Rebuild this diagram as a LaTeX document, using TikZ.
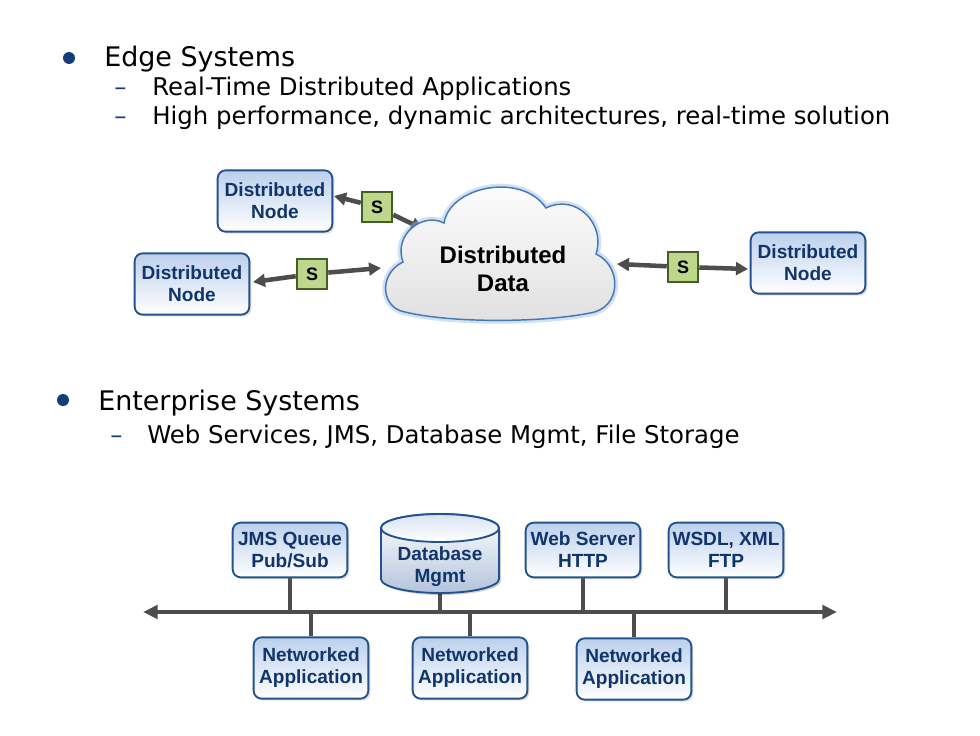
\documentclass[tikz,border=0pt]{standalone}
\usepackage{fontspec}
\setmainfont{DejaVu Sans}
\newfontfamily\arialf{Liberation Sans}
\usetikzlibrary{arrows.meta,shadows,backgrounds}
\definecolor{boxborder}{RGB}{36,82,140}
\definecolor{boxtext}{RGB}{16,52,108}
\definecolor{boxtop}{RGB}{188,208,236}
\definecolor{sfill}{RGB}{190,215,140}
\definecolor{sborder}{RGB}{66,96,36}
\definecolor{arrgray}{RGB}{77,77,77}
\definecolor{bulletblue}{RGB}{20,60,120}
\definecolor{cloudline}{RGB}{70,120,185}
\definecolor{cloudglow}{RGB}{150,190,235}
\tikzset{
  bigtext/.style={anchor=base west, inner sep=0pt, font=\fontsize{20.2}{24}\selectfont},
  subtext/.style={anchor=base west, inner sep=0pt, font=\fontsize{18.3}{22}\selectfont},
  dashmark/.style={anchor=base west, inner sep=0pt, text=bulletblue, font=\fontsize{18.3}{22}\selectfont},
  bulletdot/.style={circle, fill=bulletblue, inner sep=0pt, minimum size=9pt},
  bluebox/.style={draw=boxborder, line width=1.4pt, rounded corners=6pt,
    top color=boxtop, bottom color=white, text=boxtext, align=center,
    font=\arialf\bfseries\fontsize{14.3}{16.5}\selectfont,
    minimum width=86pt, minimum height=46pt, inner sep=1pt,
    drop shadow={shadow xshift=1.5pt, shadow yshift=-1.5pt, opacity=0.25}},
  sbox/.style={draw=sborder, line width=1.4pt, fill=sfill, minimum size=23pt,
    inner sep=0pt, font=\arialf\bfseries\fontsize{13.5}{14}\selectfont},
  conn/.style={draw=arrgray, line width=3.4pt, -{Triangle[width=9.5pt,length=9pt]}},
  bus/.style={draw=arrgray, line width=3.4pt},
  stem/.style={draw=arrgray, line width=3.4pt},
}
\begin{document}
\begin{tikzpicture}[x=0.75pt,y=-0.75pt]
\useasboundingbox (0,0) rectangle (980,735);
\begin{pgfonlayer}{background}
\fill[white] (0,0) rectangle (980,735);
\end{pgfonlayer}

% ---- bullets
\node[bulletdot] (b1) at (69,58) {};
\node[bigtext] (t1) at (104,66) {Edge Systems};
\node[dashmark] (d1) at (114,95) {–};
\node[subtext] (t1a) at (152,95) {Real-Time Distributed Applications};
\node[dashmark] (d2) at (114,124) {–};
\node[subtext] (t1b) at (152,124) {High performance, dynamic architectures, real-time solution};

\node[bulletdot] (b2) at (63,400) {};
\node[bigtext] (t2) at (98,410) {Enterprise Systems};
\node[dashmark] (d3) at (110,443) {–};
\node[subtext] (t2a) at (147,443) {Web Services, JMS, Database Mgmt, File Storage};

% ---- cloud
\fill[cloudglow, opacity=0.35] (405,312) .. controls (381,308) and (378,274) .. (403,262)
  .. controls (393,234) and (423,212) .. (444,223)
  .. controls (450,186) and (522,172) .. (546,208)
  .. controls (576,193) and (606,224) .. (596,254)
  .. controls (622,266) and (622,308) .. (590,313)
  .. controls (540,323) and (450,323) .. (405,312) -- cycle;
\draw[cloudglow, line width=5pt, opacity=0.45] (405,312) .. controls (381,308) and (378,274) .. (403,262)
  .. controls (393,234) and (423,212) .. (444,223)
  .. controls (450,186) and (522,172) .. (546,208)
  .. controls (576,193) and (606,224) .. (596,254)
  .. controls (622,266) and (622,308) .. (590,313)
  .. controls (540,323) and (450,323) .. (405,312) -- cycle;
\draw[cloudline, line width=1.1pt, top color=white, bottom color=black!12] (405,312) .. controls (381,308) and (378,274) .. (403,262)
  .. controls (393,234) and (423,212) .. (444,223)
  .. controls (450,186) and (522,172) .. (546,208)
  .. controls (576,193) and (606,224) .. (596,254)
  .. controls (622,266) and (622,308) .. (590,313)
  .. controls (540,323) and (450,323) .. (405,312) -- cycle;
\node[align=center, font=\arialf\bfseries\fontsize{18}{21}\selectfont] (cloud) at (503,269) {Distributed\\Data};
\coordinate (c1) at (423,229);
\coordinate (c2) at (381,268);
\coordinate (c3) at (617,264);

% ---- edge nodes
\node[bluebox] (dn1) at (275,201) {Distributed\\Node};
\node[bluebox] (dn2) at (192,284) {Distributed\\Node};
\node[bluebox] (dn3) at (808,263) {Distributed\\Node};
\node[sbox] (s1) at (377,207) {S};
\node[sbox] (s2) at (312,274) {S};
\node[sbox] (s3) at (683,267) {S};

\begin{pgfonlayer}{background}
\draw[conn] (s1) -- (334,196) coordinate (e1);
\draw[conn] (s1) -- (c1);
\draw[conn] (s2) -- (253,282) coordinate (e2);
\draw[conn] (s2) -- (c2);
\draw[conn] (s3) -- (c3);
\draw[conn] (s3) -- (748,269) coordinate (e3);
\end{pgfonlayer}

% ---- enterprise bus
\coordinate (busL) at (143,612);
\coordinate (busR) at (837,612);
\draw[bus, {Triangle[width=10pt,length=11pt]}-{Triangle[width=10pt,length=11pt]}] (busL) -- (busR);

\node[bluebox, minimum height=41pt] (jms) at (290,550) {JMS Queue\\Pub/Sub};
\node[bluebox, minimum height=41pt] (web) at (583,550) {Web Server\\HTTP};
\node[bluebox, minimum height=41pt] (wsdl) at (726,550) {WSDL, XML\\FTP};
\node[bluebox] (na1) at (311,668) {Networked\\Application};
\node[bluebox] (na2) at (470,668) {Networked\\Application};
\node[bluebox] (na3) at (634,669) {Networked\\Application};

% database cylinder
\fill[black, opacity=0.18] (383,530) -- (383,581) arc[start angle=180, end angle=0, x radius=59, y radius=14] -- (501,530) -- cycle;
\path[draw=boxborder, line width=1.4pt, top color=white, bottom color=boxtop!85!gray]
  (381,528) -- (381,579) arc[start angle=180, end angle=0, x radius=59, y radius=14] -- (499,528)
  arc[start angle=360, end angle=180, x radius=59, y radius=14] -- cycle;
\draw[boxborder, line width=1.4pt, top color=boxtop!60, bottom color=white] (440,528) ellipse[x radius=59, y radius=14];
\node[inner sep=0pt, align=center, text=boxtext,
  font=\arialf\bfseries\fontsize{14.3}{16.5}\selectfont] (db) at (440,567) {Database\\Mgmt};
\coordinate (dbbot) at (440,593);

\begin{pgfonlayer}{background}
\draw[stem] (jms.south) -- (jms.south |- busL);
\draw[stem] (dbbot) -- (dbbot |- busL);
\draw[stem] (web.south) -- (web.south |- busL);
\draw[stem] (wsdl.south) -- (wsdl.south |- busL);
\draw[stem] (na1.north) -- (na1.north |- busL);
\draw[stem] (na2.north) -- (na2.north |- busL);
\draw[stem] (na3.north) -- (na3.north |- busL);
\end{pgfonlayer}
\end{tikzpicture}
\end{document}
